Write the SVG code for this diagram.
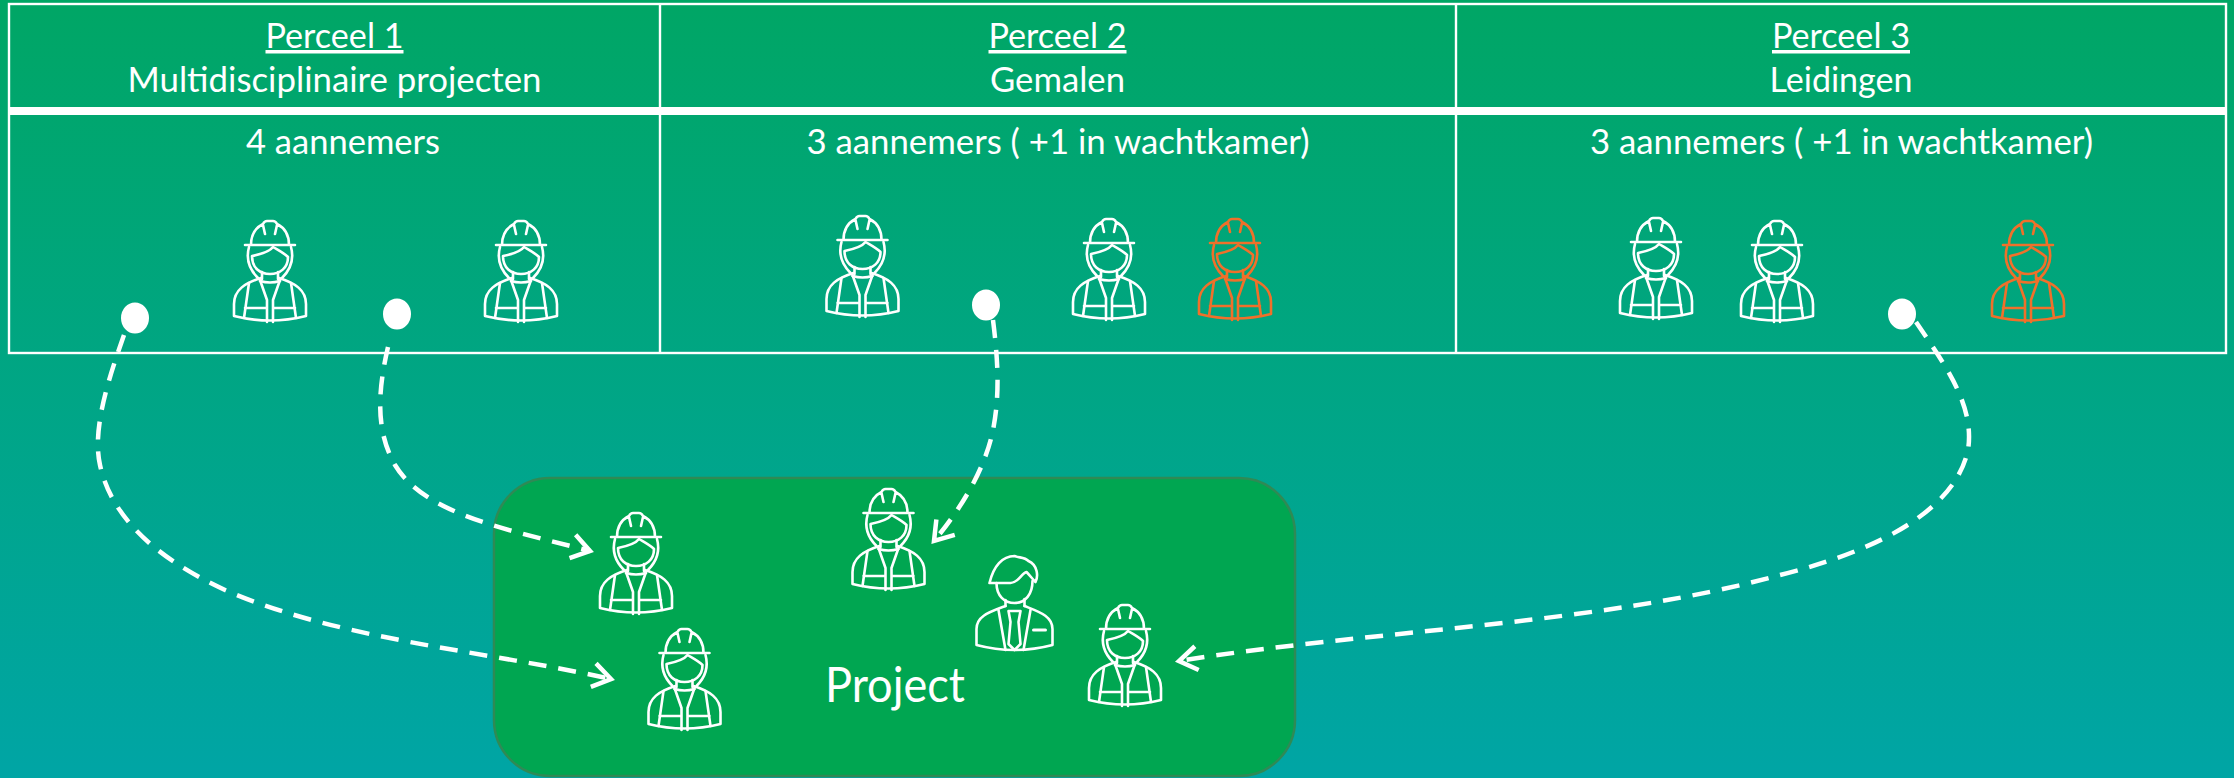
<svg xmlns="http://www.w3.org/2000/svg" width="2234" height="778" viewBox="0 0 2234 778">
<style>
.t{font-family:"Lato","Liberation Sans",sans-serif;fill:#fff;font-size:35px}
.p{font-size:48px}
.i{fill:none;stroke:#fff;stroke-width:2.6;stroke-linejoin:round;stroke-linecap:round}
.o{stroke:#f0702a}
.g{fill:none;stroke:#fff;stroke-width:2.4}
.c{fill:none;stroke:#fff;stroke-width:4.500;stroke-dasharray:18 12;marker-end:url(#a)}
.d{fill:#fff}
</style>
<defs>
<linearGradient id="bg" x1="0" y1="0" x2="0" y2="1"><stop offset="0" stop-color="#00a665"/><stop offset="1" stop-color="#00a5a5"/></linearGradient>
<marker id="a" markerUnits="userSpaceOnUse" markerWidth="30" markerHeight="34" refX="25" refY="16" orient="auto"><path d="M7,4 L25,16 L7,28" fill="none" stroke="#fff" stroke-width="4.500"/></marker>
<g id="w">
<path d="M-25,25H25M-19,25C-19,14 -15,8 -7,4C-6,2 -5,1 -3,1H3C5,1 6,2 7,4C15,8 19,14 19,25M-7,5L-5,14M7,5L5,14"/>
<path d="M-21,27C-24,38 -22,48 -12,58M21,27C24,38 22,48 12,58"/>
<path d="M-18,36C-8,34 0,31 3,27C8,30 14,33 18,37C18,48 10,54 0,54C-10,54 -18,48 -18,36Z"/>
<path d="M-8,52V59M8,52V59M-10,61Q0,64 10,61"/>
<path d="M-9,58C-25,63 -36,70 -36,84V96Q0,105 36,96V84C36,70 25,63 9,58"/>
<path d="M-21,63L-26,98M21,63L26,98M-10,60L-3,80V102M10,60L3,80V102M-25,88H-3M25,88H3"/>
</g>
<g id="m">
<path d="M-25,27H-4C4,27 7,17 12,16C15,19 18,23 21,26C24,20 23,9 14,5C10,1 5,2 0,0C-12,0 -21,10 -25,27Z"/>
<path d="M-18,27C-18,40 -10,47 0,47C11,47 18,38 18,25"/>
<path d="M-9,44V50M10,43V50"/>
<path d="M-9,50C-25,56 -38,60 -38,73V89Q0,99 38,89V73C38,60 25,56 10,50"/>
<path d="M-16,54L-9,94M16,54L9,94M-6,55H6L4,66L6,88L0,94L-6,88L-4,66Z"/>
<path d="M19,74H31" stroke-width="3"/>
</g>
</defs>
<rect id="background" width="2234" height="778" fill="url(#bg)"/>
<g id="table">
<rect class="g" x="9" y="4" width="2217" height="349"/>
<path class="g" d="M660,4V353M1456,4V353"/>
<rect x="9" y="107" width="2217" height="8" fill="#fff"/>
</g>
<g id="perceel-1">
<text class="t" x="334.500" y="48" text-anchor="middle" text-decoration="underline" textLength="138" lengthAdjust="spacingAndGlyphs">Perceel 1</text>
<text class="t" x="334.500" y="92" text-anchor="middle" textLength="414" lengthAdjust="spacingAndGlyphs">Multidisciplinaire projecten</text>
<text class="t" x="343" y="154" text-anchor="middle" textLength="194" lengthAdjust="spacingAndGlyphs">4 aannemers</text>
<use href="#w" class="i" transform="translate(270,220)"/>
<use href="#w" class="i" transform="translate(521,220)"/>
</g>
<g id="perceel-2">
<text class="t" x="1057.500" y="48" text-anchor="middle" text-decoration="underline" textLength="138" lengthAdjust="spacingAndGlyphs">Perceel 2</text>
<text class="t" x="1057.500" y="92" text-anchor="middle" textLength="135" lengthAdjust="spacingAndGlyphs">Gemalen</text>
<text class="t" x="1058" y="154" text-anchor="middle" textLength="503" lengthAdjust="spacingAndGlyphs">3 aannemers ( +1 in wachtkamer)</text>
<use href="#w" class="i" transform="translate(862.500,215)"/>
<use href="#w" class="i" transform="translate(1109,218)"/>
<use href="#w" class="i o" transform="translate(1235,218)"/>
</g>
<g id="perceel-3">
<text class="t" x="1841" y="48" text-anchor="middle" text-decoration="underline" textLength="138" lengthAdjust="spacingAndGlyphs">Perceel 3</text>
<text class="t" x="1841" y="92" text-anchor="middle" textLength="143" lengthAdjust="spacingAndGlyphs">Leidingen</text>
<text class="t" x="1841.500" y="154" text-anchor="middle" textLength="503" lengthAdjust="spacingAndGlyphs">3 aannemers ( +1 in wachtkamer)</text>
<use href="#w" class="i" transform="translate(1656,217)"/>
<use href="#w" class="i" transform="translate(1777,220)"/>
<use href="#w" class="i o" transform="translate(2028,220)"/>
</g>
<g id="project">
<rect x="494" y="478" width="801" height="298" rx="56" ry="56" fill="#00a651" stroke="#2f8a55" stroke-width="2.500"/>
<text class="t p" x="895" y="702" text-anchor="middle" textLength="140" lengthAdjust="spacingAndGlyphs">Project</text>
<use href="#w" class="i" transform="translate(636,512)"/>
<use href="#w" class="i" transform="translate(888.500,488)"/>
<use href="#w" class="i" transform="translate(684.500,628)"/>
<use href="#w" class="i" transform="translate(1125,604)"/>
<use href="#m" class="i" transform="translate(1014.500,556)"/>
</g>
<g id="connectors">
<path class="c" d="M124,335C108,380 92,430 100,465C112,520 160,560 225,590C340,640 480,650 611,679"/>
<path class="c" d="M388,347C378,390 375,430 395,465C425,515 510,530 590,551"/>
<path class="c" d="M993,320C998,360 1000,395 993,430C985,470 960,510 934,541"/>
<path class="c" d="M1916,322C1945,365 1975,405 1968,450C1955,510 1880,550 1780,575C1600,625 1370,630 1179,661"/>
</g>
<g id="dots">
<ellipse class="d" cx="135" cy="318" rx="14" ry="15.500"/>
<ellipse class="d" cx="397" cy="314" rx="14" ry="15.500"/>
<ellipse class="d" cx="986" cy="305" rx="14" ry="15.500"/>
<ellipse class="d" cx="1902" cy="314" rx="14" ry="15.500"/>
</g>
</svg>
